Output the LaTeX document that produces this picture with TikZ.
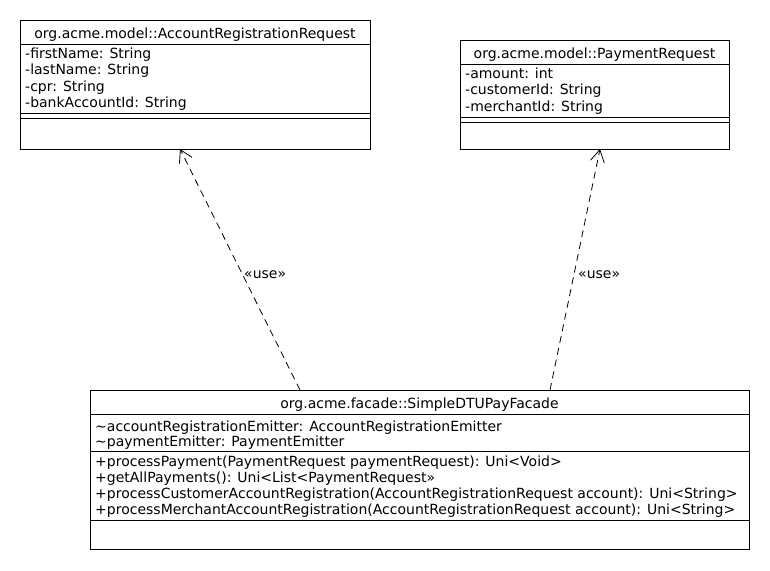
\documentclass[tikz,border=0pt]{standalone}
\usepackage{fontspec}
\setmainfont{DejaVu Sans}
\usetikzlibrary{arrows.meta}
\begin{document}
\begin{tikzpicture}[x=1pt,y=-1pt,
  box/.style={draw=black, line width=1pt, fill=white, anchor=north west, inner sep=0pt},
  sep/.style={line width=1pt},
  title/.style={anchor=base, inner sep=0pt, font=\fontsize{14}{16.5}\selectfont},
  member/.style={anchor=base west, inner sep=0pt, font=\fontsize{14}{16.5}\selectfont},
  uses/.style={dash pattern=on 7pt off 5pt, line width=0.8pt, -{Straight Barb[length=12pt,width=14pt,line width=0.8pt]}},
  lbl/.style={anchor=base west, inner sep=0pt, font=\fontsize{14}{16.5}\selectfont}]
\useasboundingbox[fill=white] (0,0) rectangle (770,570);

% AccountRegistrationRequest
\node[box, minimum width=350pt, minimum height=129pt] (A) at (20,20) {};
\draw[sep] (20,44) -- (370,44);
\draw[sep] (20,113.5) -- (370,113.5);
\draw[sep] (20,118) -- (370,118);
\node[title] (At) at (195,38) {org.acme.model::AccountRegistrationRequest};
\node[member] (A1) at (25,58) {-firstName: String};
\node[member] (A2) at (25,74.5) {-lastName: String};
\node[member] (A3) at (25,91) {-cpr: String};
\node[member] (A4) at (25,107.5) {-bankAccountId: String};

% PaymentRequest
\node[box, minimum width=269pt, minimum height=109pt] (P) at (460,40) {};
\draw[sep] (460,64) -- (729,64);
\draw[sep] (460,117.5) -- (729,117.5);
\draw[sep] (460,122) -- (729,122);
\node[title] (Pt) at (594.5,58.5) {org.acme.model::PaymentRequest};
\node[member] (P1) at (465,78) {-amount: int};
\node[member] (P2) at (465,94.5) {-customerId: String};
\node[member] (P3) at (465,111) {-merchantId: String};

% SimpleDTUPayFacade
\node[box, minimum width=659pt, minimum height=159pt] (F) at (90,390) {};
\draw[sep] (90,414) -- (749,414);
\draw[sep] (90,451) -- (749,451);
\draw[sep] (90,520) -- (749,520);
\node[title] (Ft) at (419.5,408) {org.acme.facade::SimpleDTUPayFacade};
\node[member] (F1) at (95,431) {\char"007E accountRegistrationEmitter: AccountRegistrationEmitter};
\node[member] (F2) at (95,446) {\char"007E paymentEmitter: PaymentEmitter};
\node[member] (F3) at (95,466) {+processPayment(PaymentRequest paymentRequest): Uni<Void>};
\node[member] (F4) at (95,482) {+getAllPayments(): Uni<List<PaymentRequest»};
\node[member] (F5) at (95,498) {+processCustomerAccountRegistration(AccountRegistrationRequest account): Uni<String>};
\node[member] (F6) at (95,514) {+processMerchantAccountRegistration(AccountRegistrationRequest account): Uni<String>};

% connectors
\coordinate (fa) at (300,390);
\coordinate (ta) at (180,149);
\coordinate (fp) at (550,390);
\coordinate (tp) at (600,149);
\draw[uses] (fa) -- (ta);
\draw[uses] (fp) -- (tp);
\node[lbl] (L1) at (244,278) {«use»};
\node[lbl] (L2) at (578,278) {«use»};
\end{tikzpicture}
\end{document}
